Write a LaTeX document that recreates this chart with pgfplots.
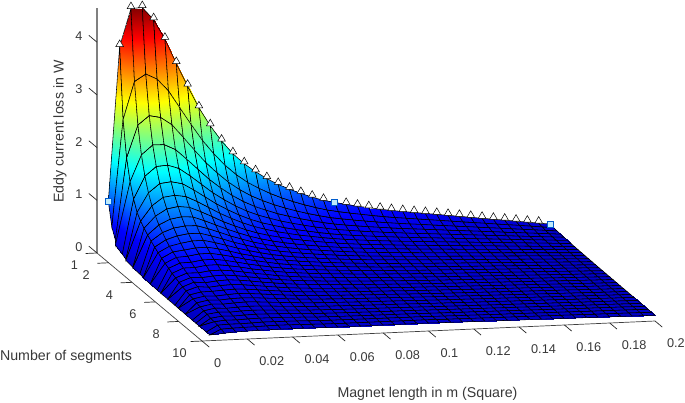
\documentclass[border=0pt]{standalone}
\usepackage{fontspec}
\setmainfont{Liberation Sans}
\usepackage{pgfplots}
\pgfplotsset{compat=1.18}
\definecolor{tx}{gray}{0.22}
\begin{document}
\begin{tikzpicture}[x=1pt,y=1pt]
\path[use as bounding box] (0,0) rectangle (685,403);
\begin{axis}[at={(97pt,150pt)},anchor=origin,
 x={(2265pt,100pt)},y={(11.67pt,-9.78pt)},z={(0pt,52.7pt)},
 xmin=0,xmax=0.2,ymin=1,ymax=10,zmin=0,zmax=4.65,
 axis x line*=bottom, axis y line*=left, axis z line*=left,
 clip=false,
 xtick={0,0.02,0.04,0.06,0.08,0.1,0.12,0.14,0.16,0.18,0.2},ytick={1,2,4,6,8,10},ztick={0,1,2,3,4},
 xticklabels={0,0.02,0.04,0.06,0.08,0.1,0.12,0.14,0.16,0.18,0.2},
 tick style={draw=none},
 axis line style={draw=none},
 ticklabel style={font=\fontsize{12.7}{14}\selectfont,text=tx},
 xticklabel style={anchor=west,xshift=8.5pt,yshift=-22pt},
 yticklabel style={anchor=center,xshift=-22.5pt,yshift=-12.5pt},
 zticklabel style={anchor=center,xshift=-18pt,yshift=6pt},
 /pgf/number format/assume math mode=true,
 colormap={refjet}{rgb255(0cm)=(0,0,184) rgb255(1cm)=(0,0,255) rgb255(3cm)=(0,255,255) rgb255(5cm)=(255,255,0) rgb255(7cm)=(255,0,0) rgb255(8cm)=(128,0,0)},
 point meta min=0,point meta max=4.65,
]
\addplot3[surf,shader=faceted interp,faceted color=black,line width=0.55pt,z buffer=none,mesh/cols=40,mesh/ordering=x varies] table[header=false,row sep=crcr,x expr={0.005*(1+mod(\coordindex,40))},y expr={1+0.3*floor(\coordindex/40)},z index=0]{
.97\\3.9\\4.61\\4.62\\4.38\\4.0\\3.53\\3.09\\2.67\\2.32\\2.02\\1.77\\1.57\\1.41\\1.27\\1.15\\1.05\\.96\\.88\\.81\\.76\\.714\\.671\\.632\\.595\\.56\\.532\\.504\\.476\\.449\\.421\\.393\\.365\\.337\\.309\\.282\\.254\\.226\\.198\\.17\\
.54\\2.57\\3.28\\3.413\\3.307\\3.075\\2.745\\2.419\\2.107\\1.844\\1.615\\1.424\\1.271\\1.148\\1.041\\.948\\.87\\.799\\.737\\.681\\.641\\.604\\.57\\.539\\.509\\.481\\.458\\.435\\.412\\.388\\.365\\.342\\.319\\.296\\.273\\.25\\.227\\.204\\.18\\.157\\
.35\\1.9\\2.51\\2.68\\2.635\\2.487\\2.239\\1.985\\1.738\\1.532\\1.349\\1.196\\1.071\\.972\\.885\\.811\\.746\\.689\\.638\\.592\\.559\\.528\\.5\\.474\\.449\\.426\\.406\\.387\\.367\\.347\\.327\\.308\\.288\\.268\\.249\\.229\\.209\\.19\\.17\\.15\\
.25\\1.5\\2.0\\2.179\\2.175\\2.072\\1.879\\1.675\\1.474\\1.305\\1.155\\1.029\\.926\\.845\\.772\\.711\\.657\\.609\\.565\\.527\\.498\\.473\\.448\\.426\\.405\\.385\\.368\\.351\\.333\\.316\\.299\\.282\\.265\\.248\\.23\\.213\\.196\\.179\\.162\\.144\\
.19\\1.23\\1.65\\1.826\\1.841\\1.769\\1.616\\1.446\\1.278\\1.136\\1.009\\.903\\.817\\.748\\.686\\.634\\.588\\.546\\.509\\.477\\.452\\.429\\.409\\.389\\.371\\.353\\.338\\.323\\.307\\.292\\.277\\.262\\.247\\.232\\.216\\.201\\.186\\.171\\.156\\.141\\
.15\\1.03\\1.39\\1.558\\1.583\\1.535\\1.407\\1.265\\1.123\\1.002\\.894\\.802\\.729\\.67\\.617\\.572\\.533\\.496\\.464\\.436\\.414\\.394\\.376\\.359\\.342\\.327\\.313\\.3\\.286\\.273\\.259\\.245\\.232\\.218\\.205\\.191\\.177\\.164\\.15\\.137\\
.13\\.92\\1.2\\1.352\\1.38\\1.347\\1.242\\1.121\\1.0\\.896\\.802\\.723\\.66\\.607\\.562\\.522\\.488\\.456\\.428\\.403\\.383\\.366\\.349\\.334\\.319\\.306\\.294\\.281\\.269\\.257\\.245\\.232\\.22\\.208\\.195\\.183\\.171\\.159\\.146\\.134\\
.11\\.84\\1.06\\1.187\\1.224\\1.197\\1.107\\1.004\\.897\\.807\\.724\\.655\\.599\\.555\\.515\\.48\\.45\\.422\\.397\\.375\\.357\\.342\\.327\\.314\\.3\\.288\\.277\\.266\\.254\\.243\\.232\\.221\\.21\\.198\\.187\\.176\\.165\\.154\\.142\\.131\\
.10\\.77\\.95\\1.048\\1.085\\1.07\\.992\\.901\\.811\\.732\\.658\\.599\\.549\\.509\\.475\\.444\\.417\\.393\\.37\\.351\\.335\\.321\\.307\\.295\\.284\\.272\\.262\\.252\\.241\\.231\\.221\\.211\\.201\\.19\\.18\\.17\\.16\\.15\\.139\\.129\\
.09\\.71\\.86\\.937\\.966\\.963\\.898\\.819\\.738\\.669\\.604\\.55\\.507\\.472\\.44\\.413\\.389\\.368\\.348\\.33\\.315\\.303\\.291\\.28\\.269\\.258\\.249\\.239\\.23\\.22\\.211\\.202\\.192\\.183\\.174\\.164\\.155\\.145\\.136\\.127\\
.08\\.65\\.78\\.843\\.877\\.874\\.814\\.746\\.673\\.613\\.555\\.508\\.468\\.438\\.41\\.387\\.365\\.345\\.327\\.312\\.298\\.287\\.276\\.265\\.256\\.246\\.237\\.229\\.22\\.212\\.203\\.194\\.186\\.177\\.169\\.16\\.151\\.143\\.134\\.125\\
.075\\.60\\.71\\.758\\.793\\.794\\.743\\.682\\.618\\.563\\.513\\.469\\.436\\.407\\.383\\.362\\.342\\.325\\.309\\.295\\.283\\.273\\.263\\.253\\.244\\.235\\.227\\.219\\.211\\.203\\.195\\.187\\.179\\.171\\.163\\.155\\.147\\.139\\.131\\.124\\
.07\\.55\\.66\\.686\\.717\\.721\\.679\\.626\\.567\\.52\\.473\\.435\\.406\\.381\\.36\\.341\\.324\\.308\\.294\\.282\\.27\\.26\\.251\\.242\\.234\\.226\\.219\\.211\\.204\\.197\\.189\\.182\\.174\\.167\\.16\\.152\\.145\\.137\\.13\\.123\\
.068\\.51\\.61\\.624\\.658\\.659\\.622\\.576\\.525\\.483\\.442\\.408\\.38\\.358\\.339\\.322\\.306\\.293\\.279\\.268\\.258\\.249\\.24\\.232\\.225\\.217\\.21\\.203\\.196\\.189\\.183\\.176\\.169\\.162\\.155\\.148\\.141\\.134\\.127\\.121\\
.065\\.47\\.56\\.566\\.599\\.602\\.571\\.529\\.485\\.446\\.41\\.38\\.355\\.336\\.319\\.304\\.29\\.278\\.266\\.257\\.247\\.239\\.231\\.223\\.216\\.21\\.204\\.197\\.191\\.184\\.178\\.172\\.165\\.159\\.152\\.146\\.14\\.133\\.127\\.12\\
.063\\.43\\.52\\.521\\.552\\.556\\.527\\.491\\.449\\.416\\.382\\.356\\.335\\.318\\.302\\.289\\.277\\.265\\.255\\.246\\.237\\.229\\.222\\.215\\.209\\.202\\.196\\.19\\.184\\.179\\.173\\.167\\.161\\.155\\.149\\.143\\.137\\.131\\.125\\.119\\
.06\\.40\\.48\\.476\\.506\\.509\\.487\\.453\\.417\\.388\\.356\\.333\\.314\\.299\\.286\\.274\\.262\\.253\\.244\\.236\\.227\\.22\\.213\\.207\\.201\\.195\\.19\\.184\\.179\\.173\\.168\\.162\\.157\\.151\\.146\\.14\\.135\\.129\\.124\\.118\\
.06\\.37\\.45\\.441\\.463\\.471\\.45\\.421\\.389\\.362\\.335\\.314\\.297\\.283\\.271\\.26\\.25\\.242\\.234\\.227\\.218\\.212\\.206\\.2\\.194\\.189\\.184\\.179\\.174\\.168\\.163\\.158\\.153\\.148\\.142\\.137\\.132\\.127\\.122\\.117\\
.058\\.34\\.42\\.40\\.425\\.436\\.419\\.394\\.364\\.34\\.315\\.296\\.281\\.269\\.258\\.249\\.24\\.232\\.226\\.219\\.211\\.205\\.199\\.194\\.189\\.184\\.179\\.174\\.17\\.165\\.16\\.155\\.15\\.146\\.141\\.136\\.131\\.126\\.122\\.117\\
.056\\.32\\.39\\.369\\.392\\.402\\.389\\.365\\.339\\.316\\.294\\.278\\.265\\.254\\.245\\.237\\.229\\.222\\.216\\.211\\.203\\.198\\.193\\.188\\.183\\.178\\.174\\.169\\.165\\.16\\.156\\.151\\.147\\.142\\.138\\.133\\.129\\.124\\.12\\.116\\
.055\\.30\\.345\\.347\\.362\\.371\\.359\\.339\\.316\\.297\\.277\\.262\\.251\\.243\\.234\\.227\\.22\\.214\\.209\\.204\\.197\\.192\\.187\\.182\\.178\\.174\\.17\\.166\\.161\\.157\\.153\\.149\\.145\\.141\\.136\\.132\\.128\\.124\\.12\\.115\\
.054\\.28\\.32\\.315\\.332\\.344\\.332\\.315\\.296\\.277\\.26\\.247\\.238\\.231\\.224\\.218\\.212\\.207\\.202\\.197\\.191\\.186\\.181\\.177\\.173\\.169\\.165\\.161\\.157\\.153\\.149\\.146\\.142\\.138\\.134\\.13\\.126\\.122\\.118\\.114\\
.053\\.26\\.30\\.293\\.311\\.317\\.308\\.292\\.276\\.26\\.245\\.235\\.227\\.22\\.215\\.209\\.204\\.199\\.195\\.191\\.185\\.181\\.177\\.172\\.169\\.165\\.161\\.158\\.154\\.15\\.146\\.143\\.139\\.135\\.132\\.128\\.124\\.121\\.117\\.114\\
.052\\.24\\.28\\.271\\.286\\.294\\.285\\.271\\.256\\.245\\.23\\.222\\.214\\.21\\.205\\.2\\.195\\.192\\.188\\.185\\.179\\.175\\.171\\.167\\.164\\.16\\.157\\.153\\.15\\.147\\.143\\.14\\.136\\.133\\.13\\.126\\.123\\.12\\.116\\.113\\
.051\\.22\\.26\\.248\\.261\\.268\\.261\\.251\\.238\\.227\\.216\\.21\\.204\\.2\\.196\\.192\\.188\\.185\\.183\\.18\\.174\\.17\\.167\\.164\\.16\\.157\\.154\\.151\\.147\\.144\\.141\\.138\\.135\\.131\\.128\\.125\\.122\\.119\\.116\\.113\\
.05\\.21\\.24\\.23\\.244\\.248\\.241\\.233\\.223\\.214\\.204\\.199\\.195\\.19\\.187\\.184\\.181\\.179\\.176\\.174\\.169\\.165\\.162\\.159\\.156\\.153\\.15\\.147\\.144\\.141\\.139\\.136\\.133\\.13\\.127\\.124\\.121\\.118\\.115\\.112\\
.05\\.19\\.22\\.213\\.223\\.229\\.224\\.219\\.211\\.204\\.193\\.189\\.185\\.182\\.179\\.176\\.174\\.172\\.17\\.169\\.164\\.161\\.158\\.155\\.153\\.15\\.147\\.144\\.142\\.139\\.136\\.133\\.131\\.128\\.125\\.122\\.12\\.117\\.114\\.112\\
.05\\.18\\.20\\.195\\.206\\.21\\.207\\.204\\.196\\.191\\.182\\.179\\.176\\.173\\.172\\.17\\.168\\.167\\.166\\.164\\.16\\.157\\.155\\.152\\.15\\.147\\.144\\.142\\.139\\.137\\.134\\.132\\.129\\.127\\.124\\.122\\.119\\.117\\.114\\.111\\
.05\\.17\\.18\\.177\\.185\\.191\\.19\\.186\\.183\\.178\\.171\\.17\\.168\\.166\\.165\\.164\\.163\\.162\\.161\\.16\\.155\\.153\\.151\\.148\\.146\\.144\\.141\\.139\\.137\\.134\\.132\\.13\\.128\\.125\\.123\\.121\\.118\\.116\\.114\\.111\\
.05\\.15\\.16\\.163\\.168\\.175\\.177\\.175\\.171\\.167\\.161\\.16\\.159\\.158\\.158\\.157\\.156\\.156\\.156\\.156\\.152\\.149\\.148\\.145\\.143\\.141\\.139\\.137\\.135\\.132\\.13\\.128\\.126\\.124\\.121\\.119\\.117\\.115\\.113\\.11\\
.05\\.13\\.145\\.15\\.155\\.16\\.16\\.16\\.158\\.156\\.152\\.152\\.152\\.152\\.152\\.152\\.152\\.152\\.152\\.152\\.148\\.146\\.144\\.142\\.14\\.138\\.136\\.134\\.132\\.13\\.128\\.126\\.124\\.122\\.12\\.118\\.116\\.114\\.112\\.11\\
};
\addplot3[only marks,mark=triangle*,mark size=4.4pt,mark options={fill=white,draw=black,line width=0.5pt}] coordinates {(.01,1,3.94)(.015,1,4.65)(.02,1,4.66)(.025,1,4.42)(.03,1,4.04)(.035,1,3.57)(.04,1,3.13)(.045,1,2.71)(.05,1,2.36)(.055,1,2.06)(.06,1,1.81)(.065,1,1.61)(.07,1,1.45)(.075,1,1.31)(.08,1,1.19)(.085,1,1.09)(.09,1,1.0)(.095,1,.92)(.1,1,.85)(.11,1,.754)(.115,1,.711)(.12,1,.672)(.125,1,.635)(.13,1,.60)(.135,1,.572)(.14,1,.544)(.145,1,.516)(.15,1,.489)(.155,1,.461)(.16,1,.433)(.165,1,.405)(.17,1,.377)(.175,1,.349)(.18,1,.322)(.185,1,.294)(.19,1,.266)(.195,1,.238)};
\addplot3[only marks,mark=square*,mark size=3pt,mark options={fill=cyan!25,draw=blue!55!cyan!80!black,line width=1pt}] coordinates {(.005,1,.97)(.105,1,.76)(.2,1,.17)};
% axis lines
\draw[black!50,line width=1.3pt] (axis cs:0,1,0) -- (axis cs:0,1,4.65);
\draw[black!75,line width=0.7pt] (axis cs:0,1,0) -- (axis cs:0,10,0) -- (axis cs:0.2,10,0);
\foreach \v in {0,0.02,0.04,0.06,0.08,0.1,0.12,0.14,0.16,0.18,0.2}{\edef\t{\noexpand\draw[black!85,line width=0.7pt] (axis cs:\v,10,0) -- (axis cs:\v,10.62,0);}\t}
\foreach \v in {1,2,4,6,8,10}{\edef\t{\noexpand\draw[black!85,line width=0.7pt] (axis cs:0,\v,0) -- (axis cs:-0.005,\v,0);}\t}
\foreach \v in {0,1,2,3,4}{\edef\t{\noexpand\draw[black!85,line width=0.7pt] (axis cs:0,1,\v) -- (axis cs:0,0.3,\v);}\t}
\end{axis}
\node[font=\fontsize{14.2}{16}\selectfont,text=tx,rotate=90] at (60,271.5) {Eddy current loss in W};
\node[font=\fontsize{14.2}{16}\selectfont,text=tx] at (66,46) {Number of segments};
\node[font=\fontsize{14.2}{16}\selectfont,text=tx] at (427.5,9) {Magnet length in m (Square)};
\end{tikzpicture}
\end{document}
